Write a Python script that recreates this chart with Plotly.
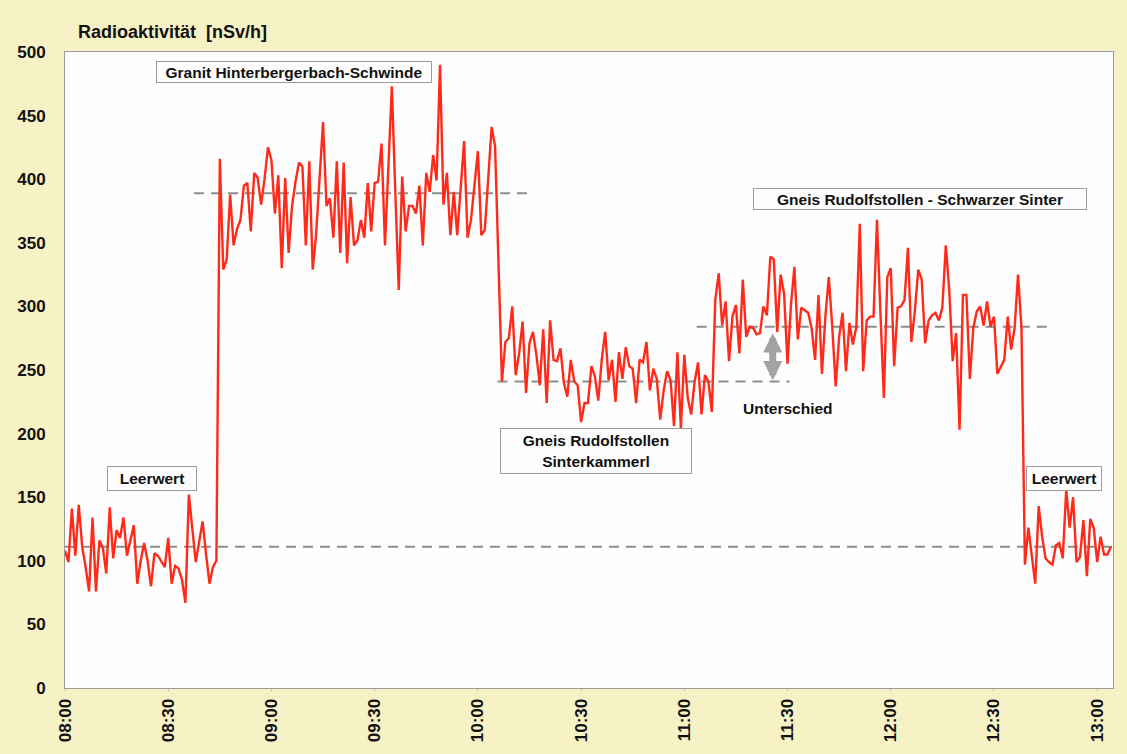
import pandas as pd
import plotly.graph_objects as go

# Measurement start; one reading per minute
base = pd.Timestamp("2000-01-01 08:00")

# Dosisleistung in nSv/h, one list per measurement location
leerwert_1_start = 0
leerwert_1 = [108, 99, 141, 104, 144, 111, 95, 76, 134, 76, 116, 110, 90, 142, 102,
              124, 118, 134, 104, 115, 128, 82, 100, 114, 100, 80, 106, 104, 100, 95,
              118, 82, 96, 94, 85, 67, 152, 125, 99, 115, 131, 105, 82, 95, 100]

granit_start = 45
granit = [416, 329, 337, 388, 348, 361, 368, 395, 397, 359, 405, 401, 380, 400, 425,
          415, 373, 403, 330, 401, 342, 379, 398, 413, 410, 348, 414, 329, 357, 400,
          445, 379, 385, 354, 414, 342, 413, 334, 386, 348, 352, 368, 354, 397, 359,
          397, 398, 428, 348, 410, 473, 390, 313, 402, 359, 379, 379, 373, 395, 348,
          405, 390, 419, 399, 490, 380, 405, 356, 390, 356, 393, 430, 354, 368, 395,
          422, 356, 360, 400, 441, 426, 336]

sinterkammerl_start = 127
sinterkammerl = [241, 272, 275, 300, 246, 263, 288, 232, 271, 280, 262, 238, 282, 224,
                 289, 258, 257, 267, 240, 229, 258, 241, 238, 209, 224, 224, 253, 245,
                 226, 258, 280, 242, 258, 225, 264, 243, 268, 253, 251, 224, 258, 256,
                 272, 234, 251, 243, 211, 234, 249, 242, 206, 264, 204, 262, 228, 215,
                 241, 256, 215, 246, 241, 217]

schwarzer_sinter_start = 189
schwarzer_sinter = [305, 326, 285, 304, 257, 292, 301, 263, 321, 276, 284, 283, 278, 279,
                    300, 293, 339, 337, 280, 325, 310, 255, 301, 331, 274, 299, 297, 295,
                    283, 258, 309, 247, 292, 323, 284, 237, 276, 295, 249, 287, 270, 284,
                    365, 249, 289, 292, 292, 368, 295, 228, 323, 330, 253, 299, 300, 305,
                    346, 272, 296, 329, 321, 271, 289, 293, 295, 289, 299, 348, 313, 257,
                    279, 203, 309, 309, 243, 283, 296, 300, 285, 304, 284, 292, 247, 253,
                    258, 292, 266, 283, 325, 283]

leerwert_2_start = 279
leerwert_2 = [97, 126, 102, 82, 143, 119, 102, 99, 97, 112, 114, 102, 156, 126, 150,
              99, 103, 132, 88, 133, 126, 99, 119, 105, 105, 111]

# Mean levels (nSv/h) and the time span (minutes after 08:00) they are drawn over
mean_values = [111, 389, 241, 284]
mean_from = [0, 37.5, 125.7, 183.6]
mean_to = [304.6, 135.9, 210.6, 286.3]

tick_labels = ["08:00", "08:30", "09:00", "09:30", "10:00", "10:30",
               "11:00", "11:30", "12:00", "12:30", "13:00"]


def t(minutes):
    return base + pd.to_timedelta(minutes, unit="min")


segments = [(leerwert_1_start, leerwert_1), (granit_start, granit),
            (sinterkammerl_start, sinterkammerl),
            (schwarzer_sinter_start, schwarzer_sinter),
            (leerwert_2_start, leerwert_2)]
minutes, values = [], []
for start, vals in segments:
    minutes += [start + i for i in range(len(vals))]
    values += vals

font = "Liberation Sans, Arial, Helvetica, sans-serif"
fig = go.Figure()

# dashed mean levels
for v, a, b in zip(mean_values, mean_from, mean_to):
    fig.add_trace(go.Scatter(x=[t(a), t(b)], y=[v, v], mode="lines",
                             line=dict(color="#8b8f8b", width=2, dash="10px,7px"),
                             hoverinfo="skip", showlegend=False))

fig.add_trace(go.Scatter(x=t(pd.Series(minutes)), y=values, mode="lines",
                         line=dict(color="#ff2a1a", width=2.4),
                         showlegend=False))

tickvals = [t(30 * i) for i in range(len(tick_labels))]
fig.update_xaxes(range=[t(0), t(304.6)], tickvals=tickvals, ticktext=tick_labels,
                 tickangle=-90, showgrid=False, zeroline=False,
                 showline=True, linecolor="#9a9a9a", linewidth=1, mirror=True,
                 ticks="outside", ticklen=3, tickcolor="#c8c8c8",
                 tickfont=dict(family=font, size=17, color="#111", weight="bold"))
fig.update_yaxes(range=[0, 500], dtick=50, showgrid=False, zeroline=False,
                 showline=True, linecolor="#9a9a9a", linewidth=1, mirror=True,
                 ticks="", ticklabelstandoff=15,
                 tickfont=dict(family=font, size=17, color="#111", weight="bold"))


def box(text, minute, value, w, h):
    fig.add_annotation(x=t(minute), y=value, text=text, showarrow=False,
                       width=w, height=h, bgcolor="#fdfdfd", bordercolor="#9c9c9c",
                       borderwidth=1, borderpad=1,
                       font=dict(family=font, size=15.5, color="#111", weight="bold"))


box("Granit Hinterbergerbach-Schwinde", 66.5, 484.5, 272, 18)
box("Leerwert", 25.3, 165, 86, 21)
box("Gneis Rudolfstollen<br>Sinterkammerl", 154.2, 186.5, 188, 42)
box("Gneis Rudolfstollen - Schwarzer Sinter", 248.5, 384.5, 330, 18)
box("Leerwert", 290.5, 165, 72, 21)

# difference arrow between the two Gneis levels
fig.add_annotation(x=t(205.7), y=242, ax=t(205.7), ay=280, xref="x", yref="y",
                   axref="x", ayref="y", text="", showarrow=True,
                   arrowside="end+start", arrowhead=2, arrowsize=0.55,
                   arrowwidth=7, arrowcolor="#a3a3a3")
fig.add_annotation(x=t(210.1), y=220, text="Unterschied", showarrow=False,
                   font=dict(family=font, size=15.5, color="#111", weight="bold"))

fig.add_annotation(x=0.0105, y=1.0314, xref="paper", yref="paper", xanchor="left",
                   yanchor="middle", text="Radioaktivität  [nSv/h]", showarrow=False,
                   font=dict(family=font, size=18, color="#111", weight="bold"))

fig.update_layout(width=1127, height=754,
                  margin=dict(l=65, r=14, t=52, b=66),
                  paper_bgcolor="#f7f2c6", plot_bgcolor="#fefefe",
                  hovermode=False)

fig.write_html("out.html")
